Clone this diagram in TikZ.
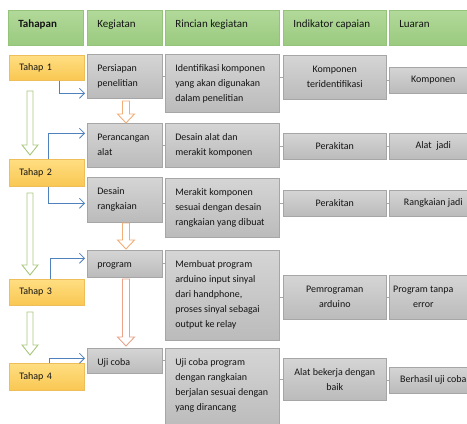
\documentclass[tikz,border=0pt]{standalone}
\usepackage{fontspec}
\setmainfont{Carlito}
\usetikzlibrary{arrows.meta,shadows,calc}
\definecolor{hdrtop}{HTML}{B2D99A}
\definecolor{hdrbot}{HTML}{9ACA7F}
\definecolor{hdrline}{HTML}{94C47A}
\definecolor{gtop}{HTML}{D5D5D5}
\definecolor{gbot}{HTML}{BBBBBB}
\definecolor{gline}{HTML}{A6A6A6}
\definecolor{ttop}{HTML}{FFDE82}
\definecolor{tbot}{HTML}{F9C752}
\definecolor{tline}{HTML}{EDBE5A}
\definecolor{blueconn}{HTML}{4F81BD}
\definecolor{greenarr}{HTML}{A8C97E}
\definecolor{orangearr}{HTML}{F2AE78}
\definecolor{orangelong}{HTML}{E9A38A}
\definecolor{txt}{HTML}{141414}
% top-left aligned text box: style, name, x, y, w, h, text
\newcommand{\TLbox}[7]{\node[#1,minimum width=#5pt,minimum height=#6pt] (#2) at (#3,#4)
  {\parbox[c][#6pt][t]{\dimexpr#5pt-20pt\relax}{\raggedright\rule{0pt}{17pt}\ignorespaces#7}};}
% centered text box
\newcommand{\CCbox}[7]{\node[#1,minimum width=#5pt,minimum height=#6pt,align=center] (#2) at (#3,#4) {#7};}
% vertical block arrow: center x, y top, y tip, shaft w, head w, head len, style
\newcommand{\Varrow}[7]{\draw[#7] ({#1-#4/2},#2) -- ({#1+#4/2},#2) -- ({#1+#4/2},{#3-#6}) -- ({#1+#5/2},{#3-#6})
  -- (#1,#3) -- ({#1-#5/2},{#3-#6}) -- ({#1-#4/2},{#3-#6}) -- cycle;}
\begin{document}
\begin{tikzpicture}[x=1pt,y=-1pt,
  base/.style={draw, line width=0.6pt, anchor=north west, inner xsep=0pt, inner ysep=0pt,
    text=txt, font=\fontsize{10}{15}\selectfont,
    drop shadow={shadow xshift=1pt,shadow yshift=-1pt,opacity=0.2,fill=black}},
  hdr/.style={base, draw=hdrline, top color=hdrtop, bottom color=hdrbot, font=\fontsize{11}{14}\selectfont},
  gbox/.style={base, draw=gline, top color=gtop, bottom color=gbot},
  tbox/.style={base, draw=tline, top color=ttop, bottom color=tbot, inner xsep=10pt, align=left},
  bl/.style={draw=blueconn, line width=0.8pt, -{Straight Barb[length=5pt,width=10pt]}},
  gc/.style={draw=gline, line width=0.8pt},
  garr/.style={draw=greenarr, line width=0.9pt, fill=white},
  oarr/.style={draw=orangearr, line width=0.9pt, fill=white},
  oarrl/.style={draw=orangelong, line width=0.9pt, fill=white}]
\clip (0,0) rectangle (467,424);
\fill[white] (0,0) rectangle (467,424);

% header
\TLbox{hdr}{h1}{8}{10}{75}{35}{\bfseries Tahapan}
\TLbox{hdr}{h2}{87}{10}{75}{35}{Kegiatan}
\TLbox{hdr}{h3}{165}{10}{114}{35}{Rincian kegiatan}
\TLbox{hdr}{h4}{283}{10}{103}{35}{Indikator capaian}
\TLbox{hdr}{h5}{389}{10}{90}{35}{Luaran}

% tahap
\node[tbox,minimum width=75pt,minimum height=25pt,text width=55pt] (t1) at (9,55) {Tahap 1};
\node[tbox,minimum width=75pt,minimum height=27pt,text width=55pt] (t2) at (9,159) {Tahap 2};
\node[tbox,minimum width=75pt,minimum height=26pt,text width=55pt] (t3) at (9,279) {Tahap 3};
\node[tbox,minimum width=75pt,minimum height=27pt,text width=55pt] (t4) at (9,363) {Tahap 4};

% kegiatan
\TLbox{gbox}{k1}{87}{54}{75}{44}{Persiapan\\penelitian}
\TLbox{gbox}{k2}{87}{123}{75}{44}{Perancangan\\alat}
\TLbox{gbox}{k3}{87}{177}{75}{45}{Desain\\rangkaian}
\TLbox{gbox}{k4}{87}{250}{75}{27}{program}
\TLbox{gbox}{k5}{87}{348}{75}{25}{Uji coba}

% rincian
\TLbox{gbox}{r1}{165}{54}{114}{58}{Identifikasi komponen\\yang akan digunakan\\dalam penelitian}
\TLbox{gbox}{r2}{165}{123}{114}{44}{Desain alat dan\\merakit komponen}
\TLbox{gbox}{r3}{165}{178}{114}{59}{Merakit komponen\\sesuai dengan desain\\rangkaian yang dibuat}
\TLbox{gbox}{r4}{165}{250}{114}{90}{Membuat program\\arduino input sinyal\\dari handphone,\\proses sinyal sebagai\\output ke relay}
\TLbox{gbox}{r5}{165}{348}{114}{80}{Uji coba program\\dengan rangkaian\\berjalan sesuai dengan\\yang dirancang}

% indikator
\CCbox{gbox}{i1}{283}{55}{103}{44}{Komponen\\teridentifikasi}
\CCbox{gbox}{i2}{283}{133}{103}{26}{Perakitan}
\CCbox{gbox}{i3}{283}{190}{103}{26}{Perakitan}
\CCbox{gbox}{i4}{283}{275}{103}{44}{Pemrograman\\arduino}
\CCbox{gbox}{i5}{283}{358}{103}{42}{Alat bekerja dengan\\baik}

% luaran
\CCbox{gbox}{l1}{389}{67}{88}{26}{Komponen}
\CCbox{gbox}{l2}{389}{133}{88}{26}{Alat\ \ jadi}
\CCbox{gbox}{l3}{389}{190}{88}{26}{Rangkaian jadi}
\CCbox{gbox}{l4}{389}{275}{88}{44}{\parbox{68pt}{\centering Program tanpa\\error}\hspace*{20pt}}
\CCbox{gbox}{l5}{389}{367}{88}{26}{Berhasil uji coba}

% gray connectors
\draw[gc] (k1.east) -- (r1.west |- k1.east);
\draw[gc] (r1.east |- i1.west) -- (i1.west);
\draw[gc] (i1.east |- l1.west) -- (l1.west);
\draw[gc] (k2.east) -- (r2.west |- k2.east);
\draw[gc] (r2.east |- i2.west) -- (i2.west);
\draw[gc] (i2.east) -- (l2.west);
\draw[gc] (k3.east |- i3.west) -- (r3.west |- i3.west);
\draw[gc] (r3.east |- i3.west) -- (i3.west);
\draw[gc] (i3.east) -- (l3.west);
\draw[gc] (k4.east) -- (r4.west |- k4.east);
\draw[gc] (r4.east |- i4.west) -- (i4.west);
\draw[gc] (i4.east) -- (l4.west);
\draw[gc] (k5.east) -- (r5.west |- k5.east);
\draw[gc] (r5.east |- i5.west) -- (i5.west);
\draw[gc] (i5.east |- l5.west) -- (l5.west);

% blue connectors
\draw[bl] ([xshift=12.5pt]t1.south) |- ([xshift=-2pt,yshift=-17pt]k1.west);
\draw[bl] ([xshift=1.5pt]t2.north) |- ([xshift=-2pt,yshift=12pt]k2.west);
\draw[bl] ([xshift=1.5pt]t2.south) |- ([xshift=-2pt,yshift=-3.5pt]k3.west);
\draw[bl] ([xshift=3.5pt]t3.north) |- ([xshift=-2pt,yshift=5.5pt]k4.west);
\draw[bl] ([xshift=2.5pt]t4.north) |- ([xshift=-2pt,yshift=2.5pt]k5.west);

% block arrows
\Varrow{30}{91}{155}{6}{16}{10}{garr}
\Varrow{30}{193}{275}{6}{16}{10}{garr}
\Varrow{30}{312}{355}{6}{16}{10}{garr}
\Varrow{126}{101}{123}{7}{17}{9}{oarr}
\Varrow{126}{223}{249}{7}{17}{9}{oarr}
\Varrow{126}{279}{346}{7}{17}{9}{oarrl}
\end{tikzpicture}
\end{document}
